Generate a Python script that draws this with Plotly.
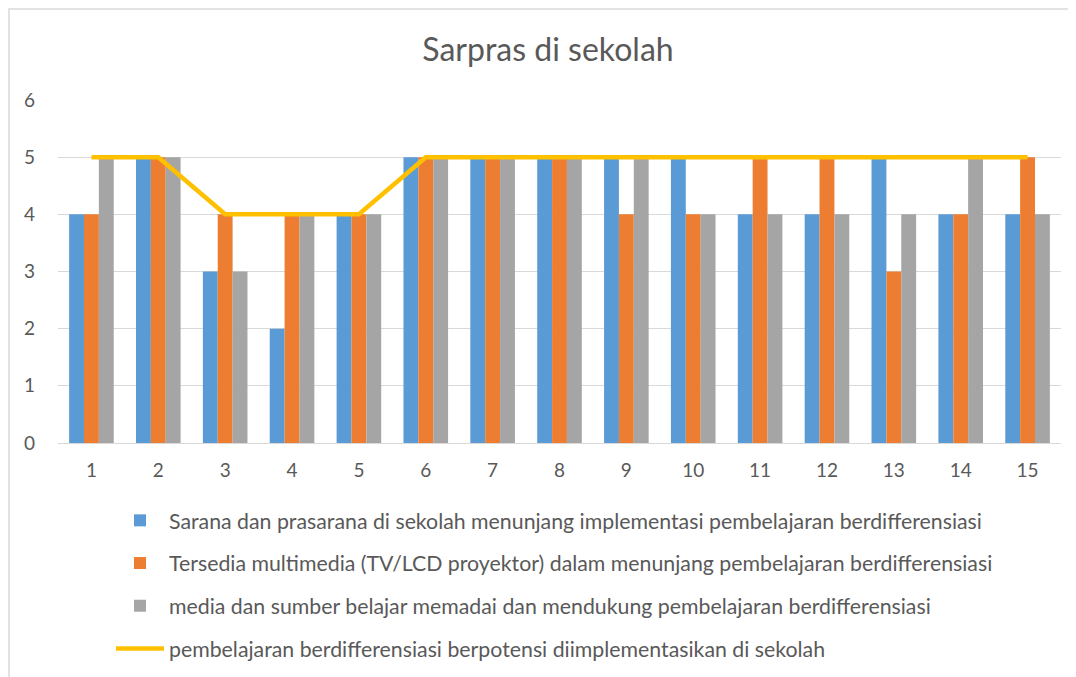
import plotly.graph_objects as go

categories = [str(i) for i in range(1, 16)]
sarana = [4, 5, 3, 2, 4, 5, 5, 5, 5, 5, 4, 4, 5, 4, 4]
multimedia = [4, 5, 4, 4, 4, 5, 5, 5, 4, 4, 5, 5, 3, 4, 5]
media = [5, 5, 3, 4, 4, 5, 5, 5, 5, 4, 4, 4, 4, 5, 4]
potensi = [5, 5, 4, 4, 4, 5, 5, 5, 5, 5, 5, 5, 5, 5, 5]

names = [
    "Sarana dan prasarana di sekolah menunjang implementasi pembelajaran berdifferensiasi",
    "Tersedia multimedia (TV/LCD proyektor) dalam menunjang pembelajaran berdifferensiasi",
    "media dan sumber belajar memadai dan mendukung pembelajaran berdifferensiasi",
    "pembelajaran berdifferensiasi berpotensi diimplementasikan di sekolah",
]
colors = ["#5B9BD5", "#ED7D31", "#A5A5A5", "#FFC000"]

FONT = "Lato"
TXT = "#595959"

fig = go.Figure()
for vals, nm, col, g in zip([sarana, multimedia, media], names[:3], colors[:3], ["a", "b", "c"]):
    fig.add_trace(go.Bar(x=categories, y=vals, name=nm, marker=dict(color=col, line=dict(width=0)),
                         legendgroup=g))
fig.add_trace(go.Scatter(x=categories, y=potensi, name=names[3], mode="lines",
                         line=dict(color=colors[3], width=4.5), legendgroup="d"))

# page body has an 8px offset; work in screen coordinates and subtract it
OFF = 8
W, H = 1076 - OFF, 677 - OFF
L = 58 - OFF
T = 100 - OFF
R = W - (1061 - OFF)
B = H - (443 - OFF)
pw, ph = W - L - R, H - T - B
def px(x):
    return (x - OFF - L) / pw
def py(y):
    return (H - B - (y - OFF)) / ph

fig.update_layout(
    width=W, height=H,
    margin=dict(l=L, r=R, t=T, b=B, autoexpand=False),
    paper_bgcolor="white", plot_bgcolor="white",
    font=dict(family=FONT, color=TXT, size=16),
    title=dict(text="Sarpras di sekolah", x=(548 - OFF) / W, xref="container", xanchor="center",
               y=1 - (50 - OFF) / H, yref="container", yanchor="middle",
               font=dict(size=32, color=TXT, family=FONT)),
    barmode="group", bargap=0.333, bargroupgap=0,
    xaxis=dict(showgrid=False, showline=True, linecolor="#d9d9d9", linewidth=1,
               ticks="", tickfont=dict(size=19, color=TXT), ticklabelstandoff=10),
    yaxis=dict(range=[0, 6], dtick=1, showgrid=True, gridcolor="#d9d9d9", gridwidth=1,
               zeroline=False, showline=False, ticks="", tickfont=dict(size=19, color=TXT),
               ticklabelstandoff=22),
    legend=dict(orientation="v", x=px(111), xanchor="left", y=py(500), yanchor="top",
                font=dict(size=21.3, color=TXT, family=FONT), tracegroupgap=12,
                itemwidth=48, traceorder="grouped", bgcolor="rgba(0,0,0,0)"),
    showlegend=True,
    shapes=[dict(type="path", xref="paper", yref="paper",
                 path=f"M {px(9)} {py(700)} L {px(9)} {py(9)} L {px(1100)} {py(9)}",
                 line=dict(color="#d9d9d9", width=1.5), layer="below")],
)

fig.write_html("out.html")
